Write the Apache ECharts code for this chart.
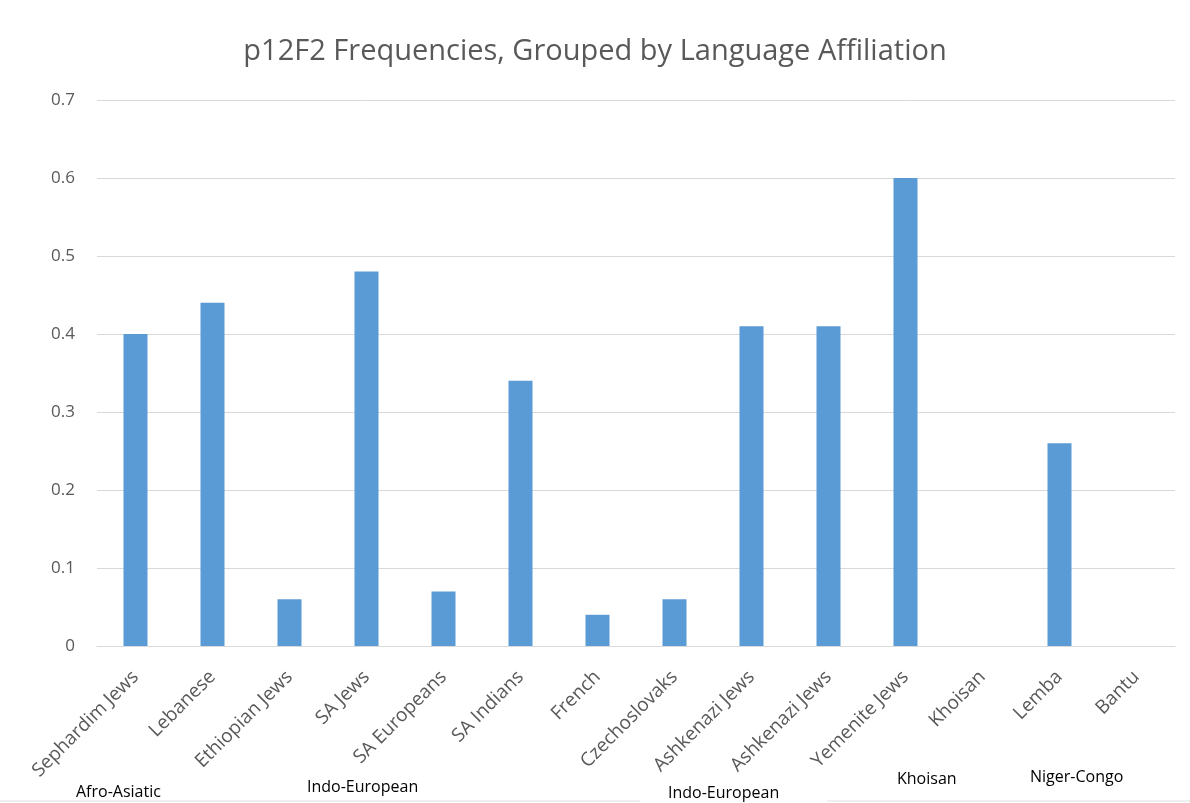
<!DOCTYPE html>
<html>
<head>
<meta charset="utf-8">
<script src="https://cdn.jsdelivr.net/npm/echarts@6/dist/echarts.min.js"></script>
<style>
  html, body { margin: 0; padding: 0; background: #fff; }
  #chart { width: 1190px; height: 803px; }
</style>
</head>
<body>
<div id="chart"></div>
<script>
// populations on the x axis
const populations = ['Sephardim Jews', 'Lebanese', 'Ethiopian Jews', 'SA Jews', 'SA Europeans', 'SA Indians',
  'French', 'Czechoslovaks', 'Ashkenazi Jews', 'Ashkenazi Jews', 'Yemenite Jews', 'Khoisan', 'Lemba', 'Bantu']
// p12F2 frequency per population (Khoisan, Bantu have no bar)
const frequencies = [0.40, 0.44, 0.06, 0.48, 0.07, 0.34, 0.04, 0.06, 0.41, 0.41, 0.60, null, 0.26, null]
// language affiliation labels under the axis
const groupNames = ['Afro-Asiatic', 'Indo-European', 'Indo-European', 'Khoisan', 'Niger-Congo']
const yTicks = [0, 0.1, 0.2, 0.3, 0.4, 0.5, 0.6, 0.7]

const groupPos = [[76, 784], [307, 779], [668, 785], [897, 771], [1030, 769]]

const chart = echarts.init(document.getElementById('chart'))
const font = '"Open Sans", "Noto Sans", sans-serif'

const option = {
  animation: false,
  title: {
    text: 'p12F2 Frequencies, Grouped by Language Affiliation',
    left: 'center',
    top: 32,
    textStyle: { fontFamily: font, fontSize: 29, fontWeight: 'normal', color: '#595959' }
  },
  grid: { left: 97, right: 15, top: 100, bottom: 157 },
  xAxis: {
    type: 'category',
    data: populations,
    axisTick: { show: false },
    axisLine: { show: true, lineStyle: { color: '#d9d9d9' } },
    axisLabel: {
      interval: 0,
      rotate: 45,
      margin: 28,
      fontFamily: font,
      fontSize: 19,
      color: '#595959'
    }
  },
  yAxis: {
    type: 'value',
    min: yTicks[0],
    max: yTicks[yTicks.length - 1],
    interval: 0.1,
    axisLine: { show: false },
    axisTick: { show: false },
    splitLine: { lineStyle: { color: '#d9d9d9' } },
    axisLabel: { fontFamily: font, fontSize: 17, color: '#595959', margin: 22 }
  },
  series: [{
    type: 'bar',
    data: frequencies,
    barWidth: 24,
    itemStyle: { color: '#5b9bd5' }
  }],
  graphic: groupNames.map((name, i) => ({
    type: 'text',
    left: groupPos[i][0],
    top: groupPos[i][1],
    style: { text: name, fontFamily: font, fontSize: 16, fill: '#000' }
  })).concat([
    { type: 'line', shape: { x1: 0, y1: 801, x2: 640, y2: 801 }, style: { stroke: '#e0e0e0', lineWidth: 1 } },
    { type: 'line', shape: { x1: 827, y1: 801, x2: 1190, y2: 801 }, style: { stroke: '#e0e0e0', lineWidth: 1 } }
  ])
}

chart.setOption(option)
</script>
</body>
</html>
